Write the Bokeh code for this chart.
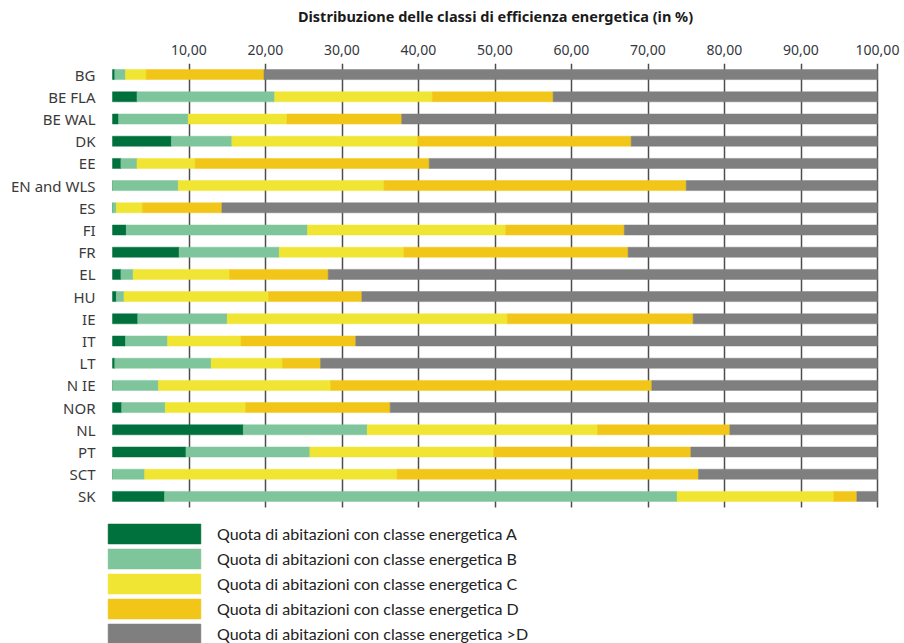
from bokeh.plotting import figure
from bokeh.models import (ColumnDataSource, Range1d, FixedTicker,
                          LinearAxis, Legend, LegendItem)
from bokeh.embed import file_html
from bokeh.resources import INLINE

# Share of dwellings by energy class (in %), per country / region
countries = ["BG", "BE FLA", "BE WAL", "DK", "EE", "EN and WLS", "ES", "FI", "FR",
             "EL", "HU", "IE", "IT", "LT", "N IE", "NOR", "NL", "PT", "SCT", "SK"]
class_a = [0.3, 3.2, 0.8, 7.7, 1.1, 0.0, 0.0, 1.8, 8.7, 1.1,
           0.5, 3.3, 1.7, 0.3, 0.0, 1.2, 17.1, 9.6, 0.0, 6.8]
class_b = [1.4, 18.0, 9.1, 7.9, 2.1, 8.6, 0.5, 23.7, 13.1, 1.6,
           1.0, 11.7, 5.5, 12.6, 6.0, 5.7, 16.2, 16.2, 4.2, 67.0]
class_c = [2.7, 20.6, 12.9, 24.3, 7.6, 26.9, 3.4, 25.9, 16.3, 12.6,
           18.9, 36.6, 9.6, 9.3, 22.5, 10.5, 30.1, 24.0, 33.0, 20.5]
class_d = [15.4, 15.8, 15.0, 27.9, 30.6, 39.5, 10.4, 15.5, 29.3, 12.9,
           12.2, 24.3, 15.0, 5.0, 42.0, 18.9, 17.3, 25.8, 39.4, 3.0]
class_worse = [80.2, 42.4, 62.2, 32.2, 58.6, 25.0, 85.7, 33.1, 32.6, 71.8,
               67.4, 24.1, 68.2, 72.8, 29.5, 63.7, 19.3, 24.4, 23.4, 2.7]

title = "Distribuzione delle classi di efficienza energetica (in %)"
ticks = [10, 20, 30, 40, 50, 60, 70, 80, 90, 100]
tick_labels = ["10,00", "20,00", "30,00", "40,00", "50,00",
               "60,00", "70,00", "80,00", "90,00", "100,00"]

keys = ["A", "B", "C", "D", "W"]
labels = ["Quota di abitazioni con classe energetica A",
          "Quota di abitazioni con classe energetica B",
          "Quota di abitazioni con classe energetica C",
          "Quota di abitazioni con classe energetica D",
          "Quota di abitazioni con classe energetica >D"]
colors = ["#00703c", "#7fc59b", "#f0e533", "#f2c618", "#7f7f7f"]

# one row per country, first country at the top
rows = list(range(len(countries)))
source = ColumnDataSource(data=dict(row=rows, country=countries, A=class_a,
                                    B=class_b, C=class_c, D=class_d, W=class_worse))

W, H = 904, 643
FRAME_LEFT, FRAME_RIGHT, FRAME_TOP = 105, 885, 63
PX_PER_UNIT = 7.65          # horizontal scale, px per percentage point
ROW_PX = 22.2               # vertical pitch of the bars
x_start = -(112 - FRAME_LEFT) / PX_PER_UNIT
x_end = x_start + (FRAME_RIGHT - FRAME_LEFT) / PX_PER_UNIT
# the plotting area runs down to the bottom edge so the legend can sit under the bars
y_top = -0.5
y_bottom = y_top + (H - FRAME_TOP) / ROW_PX

p = figure(width=W, height=H, output_backend="svg", toolbar_location=None,
           x_range=Range1d(x_start, x_end), y_range=Range1d(y_bottom, y_top),
           x_axis_location=None,
           min_border_left=FRAME_LEFT, min_border_right=W - FRAME_RIGHT,
           min_border_top=FRAME_TOP, min_border_bottom=0)
p.outline_line_color = None
p.background_fill_color = "white"
p.border_fill_color = "white"

# vertical grid lines behind the bars, only across the country rows
p.xgrid.ticker = FixedTicker(ticks=ticks)
p.xgrid.grid_line_color = "#4d4d4d"
p.xgrid.grid_line_width = 1.5
p.xgrid.cross_bounds = (rows[0] - 0.5, rows[-1] + 0.5)
p.ygrid.grid_line_color = None

# percentage scale on top, with the heading above it
top_axis = LinearAxis(ticker=FixedTicker(ticks=ticks), axis_label=title)
top_axis.major_label_overrides = {t: l for t, l in zip(ticks, tick_labels)}
top_axis.axis_line_color = None
top_axis.major_tick_line_color = None
top_axis.minor_tick_line_color = None
top_axis.major_label_text_font = "Noto Sans"
top_axis.major_label_text_font_size = "14px"
top_axis.major_label_text_color = "#333840"
top_axis.major_label_standoff = 3
top_axis.axis_label_text_font = "Noto Sans"
top_axis.axis_label_text_font_size = "14.5px"
top_axis.axis_label_text_font_style = "bold"
top_axis.axis_label_text_color = "#1a1a1a"
top_axis.axis_label_standoff = 16
p.add_layout(top_axis, "above")

p.yaxis.ticker = FixedTicker(ticks=rows)
p.yaxis.major_label_overrides = {r: c for r, c in zip(rows, countries)}
p.yaxis.axis_line_color = None
p.yaxis.major_tick_line_color = None
p.yaxis.minor_tick_line_color = None
p.yaxis.major_label_text_font = "Noto Sans"
p.yaxis.major_label_text_font_size = "15px"
p.yaxis.major_label_text_color = "#3a3a3a"
p.yaxis.major_label_standoff = 4

renderers = p.hbar_stack(keys, y="row", height=0.45, color=colors,
                         line_width=0.5, source=source)

# bar swatches are drawn inset by 10% of the glyph box, so the box is made larger
legend = Legend(items=[LegendItem(label=l, renderers=[r]) for l, r in zip(labels, renderers)],
                location=(-9, -3), orientation="vertical")
legend.glyph_width = 116
legend.glyph_height = 25
legend.label_height = 25
legend.spacing = 0
legend.padding = 0
legend.margin = 0
legend.label_standoff = 5
legend.label_text_font = "Lato"
legend.label_text_font_size = "16px"
legend.label_text_color = "#222222"
legend.border_line_color = None
legend.background_fill_alpha = 0
p.add_layout(legend)

open("out.html", "w").write(file_html(p, INLINE))
